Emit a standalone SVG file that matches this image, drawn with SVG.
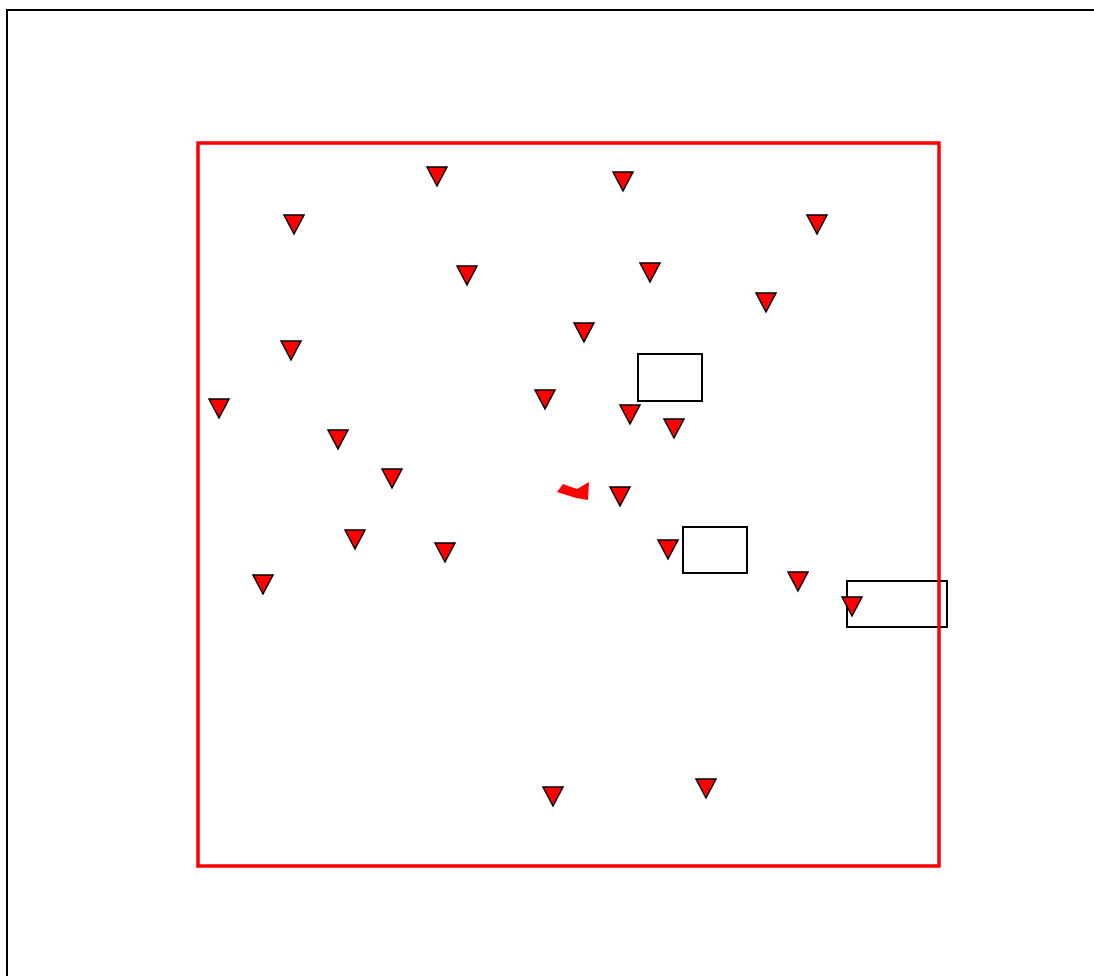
<svg xmlns="http://www.w3.org/2000/svg" xmlns:xlink="http://www.w3.org/1999/xlink" width="1094" height="976" viewBox="0 0 1094 976">
<style>
.frame{fill:none;stroke:#000;stroke-width:2}
.box{fill:none;stroke:#000;stroke-width:2}
.area{fill:none;stroke:#f00;stroke-width:3.5}
.tri{fill:#f00;stroke:#000;stroke-width:1.5;stroke-linejoin:miter}
</style>
<defs>
<polygon id="t" class="tri" points="-10,1 10,1 0,20"/>
</defs>
<rect width="1094" height="976" fill="#fff"/>
<rect class="frame" x="7" y="10" width="1100" height="1000"/>
<g id="boxes">
<rect id="box1" class="box" x="638" y="354" width="64" height="47"/>
<rect id="box2" class="box" x="683" y="527" width="64" height="46"/>
<rect id="box3" class="box" x="847" y="581" width="100" height="46"/>
</g>
<g id="area"><rect class="area" x="198" y="143" width="741" height="723"/></g>
<g id="markers">
<use xlink:href="#t" x="437" y="166"/>
<use xlink:href="#t" x="623" y="171"/>
<use xlink:href="#t" x="294" y="214"/>
<use xlink:href="#t" x="817" y="214"/>
<use xlink:href="#t" x="467" y="265"/>
<use xlink:href="#t" x="650" y="262"/>
<use xlink:href="#t" x="766" y="292"/>
<use xlink:href="#t" x="584" y="322"/>
<use xlink:href="#t" x="291" y="340"/>
<use xlink:href="#t" x="219" y="398"/>
<use xlink:href="#t" x="545" y="389"/>
<use xlink:href="#t" x="630" y="404"/>
<use xlink:href="#t" x="674" y="418"/>
<use xlink:href="#t" x="338" y="429"/>
<use xlink:href="#t" x="392" y="468"/>
<use xlink:href="#t" x="620" y="486"/>
<use xlink:href="#t" x="355" y="529"/>
<use xlink:href="#t" x="445" y="542"/>
<use xlink:href="#t" x="668" y="539"/>
<use xlink:href="#t" x="263" y="574"/>
<use xlink:href="#t" x="798" y="571"/>
<use xlink:href="#t" x="852" y="596"/>
<use xlink:href="#t" x="553" y="786"/>
<use xlink:href="#t" x="706" y="778"/>
</g>
<g id="shape"><polygon points="557,492 563,484 577,489 589,482 588,500 576,498" fill="#f00"/></g>
</svg>
